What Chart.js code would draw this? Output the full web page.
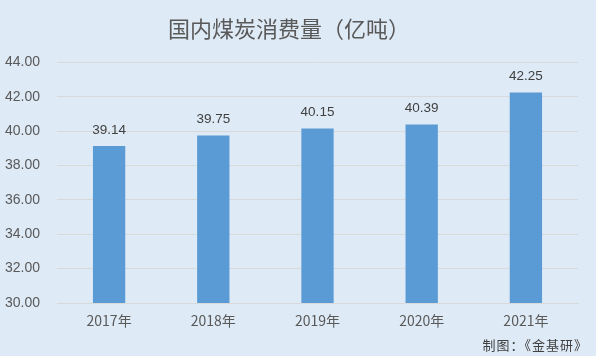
<!DOCTYPE html>
<html><head><meta charset="utf-8">
<script src="https://cdn.jsdelivr.net/npm/chart.js@4/dist/chart.umd.min.js"></script>
<style>
html,body{margin:0;padding:0;background:#DEEAF6;}
#wrap{position:relative;width:596px;height:356px;}
#footer{position:absolute;right:8px;top:335px;font:13px "Noto Sans CJK SC",sans-serif;color:#404040;letter-spacing:1px;}
</style></head>
<body><div id="wrap"><canvas id="c" width="596" height="356"></canvas><div id="footer">制图：《金基研》</div></div>
<script>
const categories = ["2017年","2018年","2019年","2020年","2021年"];
const consumption = [39.14, 39.75, 40.15, 40.39, 42.25];
const titleText = "国内煤炭消费量（亿吨）";

const labelPlugin = {
  id:'vals',
  afterDatasetsDraw(chart){
    const ctx = chart.ctx;
    const meta = chart.getDatasetMeta(0);
    ctx.save();
    ctx.font = '13.5px "Liberation Sans", Arial, sans-serif';
    ctx.fillStyle = '#404040';
    ctx.textAlign = 'center';
    ctx.textBaseline = 'middle';
    meta.data.forEach((el,i)=>{
      ctx.fillText(consumption[i].toFixed(2), el.x, el.y - 16);
    });
    ctx.restore();
  }
};

new Chart(document.getElementById('c'), {
  type:'bar',
  data:{labels:categories, datasets:[{data:consumption, backgroundColor:'#5B9BD5', barPercentage:0.31, categoryPercentage:1}]},
  options:{
    responsive:false, animation:false,
    layout:{padding:{left:0,right:18,top:0,bottom:0}},
    plugins:{
      legend:{display:false}, tooltip:{enabled:false},
      title:{display:true, text:titleText, color:'#595959', font:{family:'"Noto Sans CJK SC", sans-serif', size:22, weight:'normal'}, padding:{top:15,bottom:21}}
    },
    scales:{
      x:{
        grid:{display:false, drawTicks:false},
        border:{display:true, color:'#d9d9d9'},
        ticks:{color:'#595959', font:{family:'"Noto Sans CJK SC", sans-serif', size:14}, padding:9},
        afterFit(s){ s.height = 53; }
      },
      y:{
        min:30, max:44,
        grid:{color:'#d9d9d9', drawTicks:false},
        border:{display:false},
        ticks:{stepSize:2, color:'#595959', font:{family:'"Liberation Sans", Arial, sans-serif', size:14}, padding:17, callback:v=>v.toFixed(2)},
        afterFit(s){ s.width = 57; }
      }
    }
  },
  plugins:[labelPlugin]
});
</script></body></html>
